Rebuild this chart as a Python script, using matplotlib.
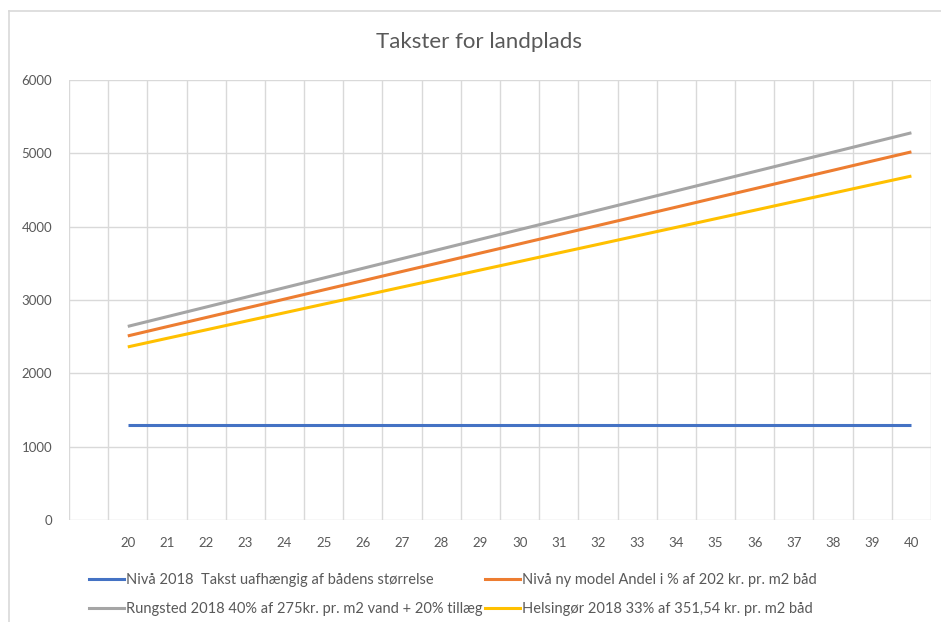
import matplotlib
matplotlib.use('Agg')
import matplotlib.pyplot as plt
from matplotlib.lines import Line2D

# categories (first slot is an empty category, as in the original sheet)
lengths = ['', '20', '21', '22', '23', '24', '25', '26', '27', '28', '29', '30',
           '31', '32', '33', '34', '35', '36', '37', '38', '39', '40']

niva_2018 = [1300] * 21
niva_ny = [2510, 2636, 2761, 2887, 3012, 3138, 3263, 3389, 3514, 3640, 3765,
           3891, 4016, 4142, 4267, 4393, 4518, 4644, 4769, 4895, 5020]
rungsted = [2640, 2772, 2904, 3036, 3168, 3300, 3432, 3564, 3696, 3828, 3960,
            4092, 4224, 4356, 4488, 4620, 4752, 4884, 5016, 5148, 5280]
helsingor = [2360, 2477, 2593, 2710, 2826, 2943, 3059, 3176, 3292, 3409, 3525,
             3642, 3758, 3875, 3991, 4108, 4224, 4341, 4457, 4574, 4690]

labels = ['Nivå 2018  Takst uafhængig af bådens størrelse',
          'Nivå ny model Andel i % af 202 kr. pr. m2 båd',
          'Rungsted 2018 40% af 275kr. pr. m2 vand + 20% tillæg',
          'Helsingør 2018 33% af 351,54 kr. pr. m2 båd']
line_colors = ['#4472C4', '#ED7D31', '#A5A5A5', '#FFC000']

text_color = '#595959'
grid_color = '#D9D9D9'
plt.rcParams['font.family'] = ['Lato', 'DejaVu Sans']

fig = plt.figure(figsize=(9.41, 6.22), dpi=100)
ax = fig.add_axes([69 / 941, 102 / 622, 862 / 941, 440 / 622])

xs = list(range(1, len(lengths)))
for series, c in zip([niva_2018, niva_ny, rungsted, helsingor], line_colors):
    ax.plot(xs, series, color=c, linewidth=2.2, solid_capstyle='butt')

ax.set_xlim(-0.5, len(lengths) - 0.5)
ax.set_ylim(0, 6000)
ax.set_yticks(range(0, 6001, 1000))
ax.set_xticks(range(len(lengths)))
ax.set_xticklabels(lengths)

# vertical grid sits between categories
for b in range(len(lengths) + 1):
    ax.axvline(b - 0.5, color=grid_color, linewidth=1, zorder=0)
ax.yaxis.grid(True, color=grid_color, linewidth=1, zorder=0)
ax.set_axisbelow(True)
for s in ax.spines.values():
    s.set_visible(False)
ax.tick_params(axis='both', length=0, colors=text_color, labelsize=9.5)
ax.tick_params(axis='x', pad=12)
ax.tick_params(axis='y', pad=12)

fig.text(479 / 941, 1 - 42 / 622, 'Takster for landplads', ha='center', va='center',
         fontsize=16, color=text_color)

# chart frame
fig.add_artist(Line2D([8.5 / 941, 8.5 / 941], [0, 1 - 10.5 / 622], color='#D9D9D9',
                      linewidth=1.2, transform=fig.transFigure))
fig.add_artist(Line2D([8.5 / 941, 1], [1 - 10.5 / 622, 1 - 10.5 / 622], color='#D9D9D9',
                      linewidth=1.2, transform=fig.transFigure))

handles = [Line2D([], [], color=line_colors[i], linewidth=2.2) for i in [0, 2, 1, 3]]
leg_labels = [labels[i] for i in [0, 2, 1, 3]]
leg = fig.legend(handles, leg_labels, ncol=2, loc='upper left',
                 bbox_to_anchor=(76 / 941, 1 - 560 / 622), frameon=False,
                 fontsize=10.5, handlelength=2.4, handletextpad=0.1,
                 columnspacing=0.2, labelspacing=1.0)
for t in leg.get_texts():
    t.set_color(text_color)

fig.savefig('out.png', dpi=100, facecolor='white')
